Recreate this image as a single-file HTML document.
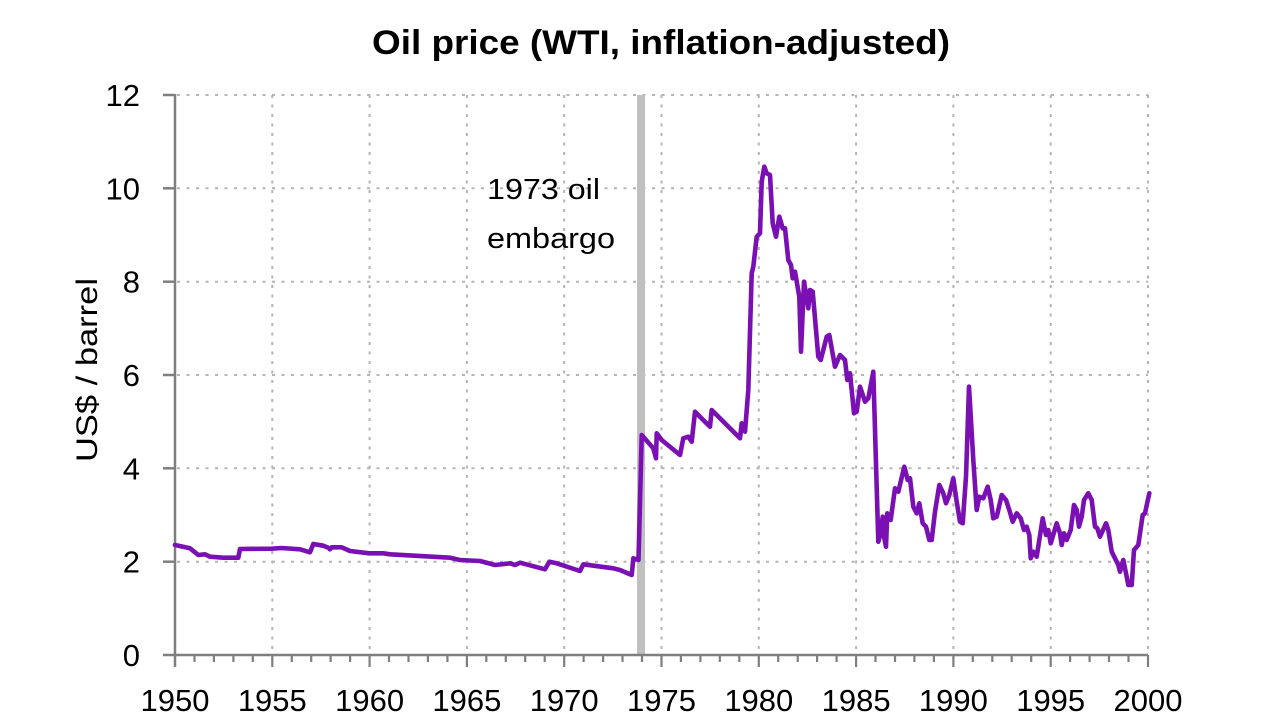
<!DOCTYPE html>
<html>
<head>
<meta charset="utf-8">
<style>
html,body{margin:0;padding:0;background:#fff;}
svg{display:block;}
text{font-family:"Liberation Sans",Arial,sans-serif;fill:#000;}
</style>
</head>
<body>
<svg width="1280" height="720" viewBox="0 0 1280 720" xmlns="http://www.w3.org/2000/svg">
<rect width="1280" height="720" fill="#fff"/>
<!-- grid -->
<g stroke="#b4b4b4" stroke-width="2" stroke-dasharray="3 6.5" fill="none">
<line x1="177" y1="95" x2="1148" y2="95"/>
<line x1="177" y1="188.3" x2="1148" y2="188.3"/>
<line x1="177" y1="281.7" x2="1148" y2="281.7"/>
<line x1="177" y1="375" x2="1148" y2="375"/>
<line x1="177" y1="468.3" x2="1148" y2="468.3"/>
<line x1="177" y1="561.7" x2="1148" y2="561.7"/>
<line x1="272.3" y1="95" x2="272.3" y2="653"/>
<line x1="369.6" y1="95" x2="369.6" y2="653"/>
<line x1="466.9" y1="95" x2="466.9" y2="653"/>
<line x1="564.2" y1="95" x2="564.2" y2="653"/>
<line x1="661.5" y1="95" x2="661.5" y2="653"/>
<line x1="758.8" y1="95" x2="758.8" y2="653"/>
<line x1="856.1" y1="95" x2="856.1" y2="653"/>
<line x1="953.4" y1="95" x2="953.4" y2="653"/>
<line x1="1050.7" y1="95" x2="1050.7" y2="653"/>
<line x1="1148" y1="95" x2="1148" y2="653"/>
</g>
<!-- embargo bar -->
<rect x="637" y="95" width="8" height="560" fill="#c0c0c0"/>
<!-- axes -->
<g stroke="#7f7f7f" stroke-width="2.5" fill="none">
<line x1="175" y1="94" x2="175" y2="667"/>
<line x1="175" y1="655" x2="1148" y2="655"/>
<line x1="163" y1="95" x2="175" y2="95"/>
<line x1="163" y1="188.3" x2="175" y2="188.3"/>
<line x1="163" y1="281.7" x2="175" y2="281.7"/>
<line x1="163" y1="375" x2="175" y2="375"/>
<line x1="163" y1="468.3" x2="175" y2="468.3"/>
<line x1="163" y1="561.7" x2="175" y2="561.7"/>
<line x1="163" y1="655" x2="175" y2="655"/>
</g>
<g stroke="#7f7f7f" stroke-width="2.2" fill="none">
<path d="M194.5 655v7M213.9 655v7M233.4 655v7M252.8 655v7M272.3 655v12M291.8 655v7M311.2 655v7M330.6 655v7M350.1 655v7M369.6 655v12M389 655v7M408.5 655v7M427.9 655v7M447.4 655v7M466.9 655v12M486.3 655v7M505.8 655v7M525.2 655v7M544.7 655v7M564.2 655v12M583.6 655v7M603.1 655v7M622.5 655v7M642 655v7M661.5 655v12M680.9 655v7M700.4 655v7M719.8 655v7M739.3 655v7M758.8 655v12M778.2 655v7M797.7 655v7M817.1 655v7M836.6 655v7M856.1 655v12M875.5 655v7M895 655v7M914.4 655v7M933.9 655v7M953.4 655v12M972.8 655v7M992.3 655v7M1011.7 655v7M1031.2 655v7M1050.7 655v12M1070.1 655v7M1089.6 655v7M1109 655v7M1128.5 655v7M1148 655v12"/>
</g>
<!-- data -->
<polyline fill="none" stroke="#7a10b4" stroke-width="4.6" stroke-linejoin="round" stroke-linecap="round" points="
175,545 190,548.3 198.3,555 205,554.3 210,556.7 223.3,557.7 238.3,557.7 240,549 271.7,548.7 281.7,548 300,549.3 310,552.3 313.3,544 323.3,545.7 328.3,547.7 330,549.3 331.7,547.3 341.7,547.3 350,551 369.3,553.3 383.3,553.3 390,554.3 450,557.7 460,560 480,561 495,565 510,563.3 515,565 520,562.7 545,569.3 549.3,561.7 556.7,563.3 580,571 583.3,564.3 613.3,568.3 620,570 631.7,575 633.3,558.3 638.5,560 641.7,435 653.3,448.3 656,458.3 656.7,433.3 661.7,440 680,455 683.3,438.3 688.3,436.7 691.7,441.7 695,411.7 710,426.7 711.7,410 740,438.3 741.7,423.3 745,431.7 748.3,390 751.7,273.3 753.3,266.7 756.7,236.7 760,233.3 761.7,181.7 764.3,166.7 766.7,173.3 770,175 772.7,223.3 776,236.7 779.3,216.7 782.7,228.3 785,228.3 788.3,260 791,265 792.7,278.3 795,271.7 799.3,296.7 801,351.7 804,281.7 808.3,308.3 810,290 812.7,291.7 818.3,356.7 820.7,360 823.3,350 826.7,336.7 829.3,335 835,366.7 840,355 845,360 847.3,380 850,373.3 854,413.3 856.7,411.7 860,386.7 865,401.7 868.3,398.3 873.3,371.7 878.3,541.7 880.7,533.3 882.7,516.7 884,536.7 886,546.7 887.3,513.3 890.7,520 895,488.3 898.3,491.7 904.3,466.7 907.7,480 910,478.3 913.3,506.7 916.7,513.3 919.3,503.3 922.7,523.3 926,526.7 929.3,540 931.7,540 935,511.7 939.3,485 943.3,493.3 946,503.3 949.3,495 953.3,478.3 956.7,501.7 960,521.7 962.7,523.3 966,476.7 969,386.7 973.3,460 976.7,510 979.3,496.7 983.3,498.3 987.7,486.7 990.7,500 993.3,518.3 996.7,516.7 1001.7,495 1006,500 1009.3,510 1012.7,521.7 1016.7,513.3 1020.7,518.3 1024,530 1026.7,526.7 1029.3,535 1030.7,558.3 1033.3,551.7 1036.7,556.7 1042.7,518.3 1046,535 1048.3,530 1050.7,543.3 1056.7,523.3 1060,533.3 1061.7,545 1064,533.3 1066.7,540 1070.7,530 1074,505 1076.7,510 1079,526.7 1081.7,516.7 1084,500 1088.3,493.3 1091.7,500 1095,526.7 1097.3,528.3 1100,536.7 1106,523.3 1108.3,530 1111.7,551.7 1115,558.3 1118.3,565 1120,571.7 1123.3,560 1126.7,576.7 1128.3,585 1131.7,585 1134,550 1138.3,545 1142.7,515 1145,513.3 1149.3,493.3"/>
<!-- title -->
<text x="372" y="54" font-size="34" font-weight="bold" textLength="578" lengthAdjust="spacingAndGlyphs">Oil price (WTI, inflation-adjusted)</text>
<!-- annotation -->
<text x="487" y="199" font-size="29" textLength="113" lengthAdjust="spacingAndGlyphs">1973 oil</text>
<text x="487" y="248" font-size="29" textLength="128" lengthAdjust="spacingAndGlyphs">embargo</text>
<!-- y labels -->
<g font-size="31" text-anchor="end">
<text x="140" y="106">12</text>
<text x="140" y="199.3">10</text>
<text x="140" y="292.7">8</text>
<text x="140" y="386">6</text>
<text x="140" y="479.3">4</text>
<text x="140" y="572.7">2</text>
<text x="140" y="666">0</text>
</g>
<!-- x labels -->
<g font-size="31" text-anchor="middle">
<text x="175" y="711">1950</text>
<text x="272.3" y="711">1955</text>
<text x="369.6" y="711">1960</text>
<text x="466.9" y="711">1965</text>
<text x="564.2" y="711">1970</text>
<text x="661.5" y="711">1975</text>
<text x="758.8" y="711">1980</text>
<text x="856.1" y="711">1985</text>
<text x="953.4" y="711">1990</text>
<text x="1050.7" y="711">1995</text>
<text x="1148" y="711">2000</text>
</g>
<!-- y axis title -->
<text transform="translate(97,370) rotate(-90)" font-size="30" text-anchor="middle" textLength="184" lengthAdjust="spacingAndGlyphs">US$ / barrel</text>
</svg>
</body>
</html>
